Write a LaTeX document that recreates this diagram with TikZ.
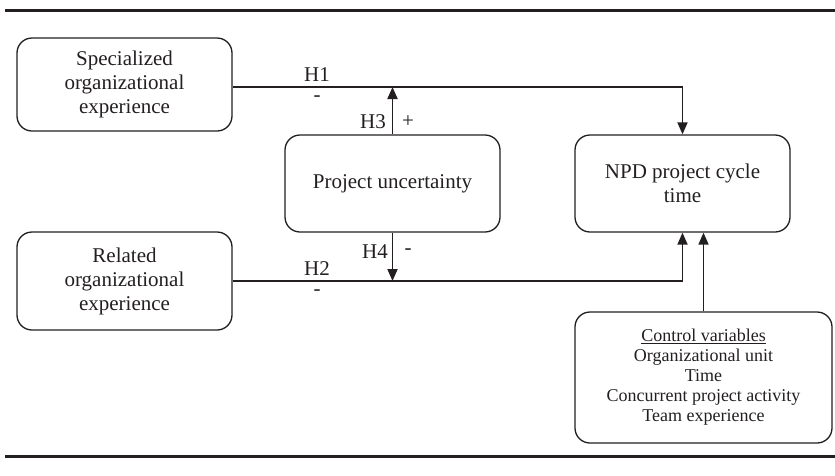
\documentclass[tikz,border=0pt]{standalone}
\usepackage{fontspec}
\setmainfont{Liberation Serif}
\usetikzlibrary{arrows.meta}
\definecolor{ink}{HTML}{231F20}
\tikzset{
  box/.style={draw=ink, line width=1.3pt, rounded corners=15pt, inner sep=0pt, align=center,
    font=\fontsize{21}{24}\selectfont, text=ink},
  lbl/.style={inner sep=0pt, font=\fontsize{21}{24}\selectfont, text=ink},
  arr/.style={draw=ink, line width=1.8pt, -{Triangle[width=10pt,length=12pt]}},
  rule/.style={draw=ink, line width=3pt}
}
\begin{document}
\begin{tikzpicture}[x=1pt,y=-1pt]
\useasboundingbox (0,0) rectangle (835,475);
\draw[rule] (5,10) -- (835,10);
\draw[rule] (5,456) -- (835,456);

\node[box, minimum width=215pt, minimum height=93pt] (spec) at (124.5,84.5)
  {Specialized\\organizational\\experience};
\node[box, minimum width=215pt, minimum height=97pt] (unc) at (392.5,183.5)
  {Project uncertainty};
\node[box, minimum width=215pt, minimum height=97pt] (npd) at (682.5,183.5)
  {NPD project cycle\\time};
\node[box, minimum width=215pt, minimum height=98pt] (rel) at (124.5,281)
  {Related\\organizational\\experience};
\node[box, minimum width=257pt, minimum height=131pt, font=\fontsize{18}{20}\selectfont] (ctrl) at (703.5,377.5)
  {\underline{Control variables}\\Organizational unit\\Time\\Concurrent project activity\\Team experience};

\coordinate (m1) at (392.5,87);
\coordinate (m2) at (392.5,281);

\draw[arr] (spec.east|-m1) -- (m1) -| (npd.north);
\draw[arr] (unc.north) -- (m1);
\draw[arr] (rel.east|-m2) -- (m2) -| (npd.south);
\draw[arr] (unc.south) -- (m2);
\draw[arr] (ctrl.north) -- (ctrl.north|-npd.south);

\node[lbl] (h1) at (317,75) {H1};
\node[lbl] (h1s) at (317,99) {-};
\node[lbl] (h3) at (373,122) {H3};
\node[lbl] (h3s) at (408,122) {+};
\node[lbl] (h4) at (375,252) {H4};
\node[lbl] (h4s) at (408,252) {-};
\node[lbl] (h2) at (317,269) {H2};
\node[lbl] (h2s) at (317,293) {-};
\end{tikzpicture}
\end{document}
